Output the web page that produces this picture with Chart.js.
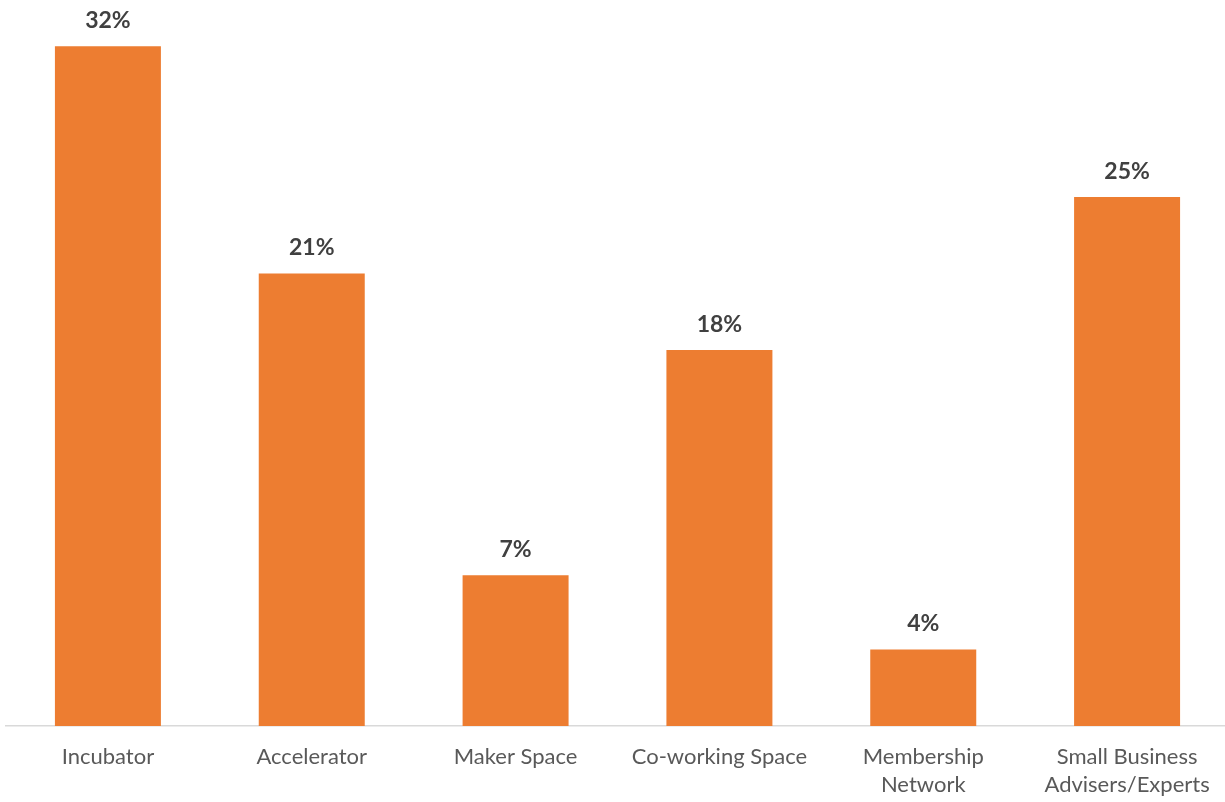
<!DOCTYPE html>
<html>
<head>
<meta charset="utf-8">
<script src="https://cdn.jsdelivr.net/npm/chart.js@4"></script>
<style>
  html, body { margin: 0; padding: 0; background: #ffffff; overflow: hidden; }
  #wrap { width: 1229px; height: 802px; position: relative; }
</style>
</head>
<body>
<div id="wrap"><canvas id="c"></canvas></div>
<script>
const categories = [
  "Incubator",
  "Accelerator",
  "Maker Space",
  "Co-working Space",
  ["Membership", "Network"],
  ["Small Business", "Advisers/Experts"]
];
const shares = [32.0, 21.3, 7.1, 17.7, 3.6, 24.9];

const valueLabels = {
  id: 'valueLabels',
  afterDatasetsDraw(chart) {
    const ctx = chart.ctx;
    const meta = chart.getDatasetMeta(0);
    ctx.save();
    ctx.font = 'bold 23px Lato';
    ctx.fillStyle = '#404040';
    ctx.textAlign = 'center';
    ctx.textBaseline = 'bottom';
    meta.data.forEach((bar, i) => {
      ctx.fillText(Math.round(shares[i]) + '%', bar.x, bar.y - 14);
    });
    ctx.restore();
  }
};

new Chart(document.getElementById('c'), {
  type: 'bar',
  data: {
    labels: categories,
    datasets: [{
      data: shares,
      backgroundColor: '#ED7D31',
      borderWidth: 0,
      categoryPercentage: 1.0,
      barPercentage: 0.52
    }]
  },
  options: {
    responsive: true,
    maintainAspectRatio: false,
    animation: false,
    layout: { padding: { top: 25, left: 6, right: 0, bottom: 0 } },
    plugins: { legend: { display: false }, tooltip: { enabled: false } },
    scales: {
      x: {
        grid: { display: false, drawTicks: false },
        border: { display: true, color: '#D9D9D9', width: 1.5 },
        ticks: {
          color: '#595959',
          font: { family: 'Lato', size: 22, lineHeight: 1.27 },
          padding: 17,
          maxRotation: 0,
          autoSkip: false
        },
        afterFit(scale) { scale.height = 76; }
      },
      y: {
        display: false,
        min: 0,
        max: 33
      }
    }
  },
  plugins: [valueLabels]
});
</script>
</body>
</html>
